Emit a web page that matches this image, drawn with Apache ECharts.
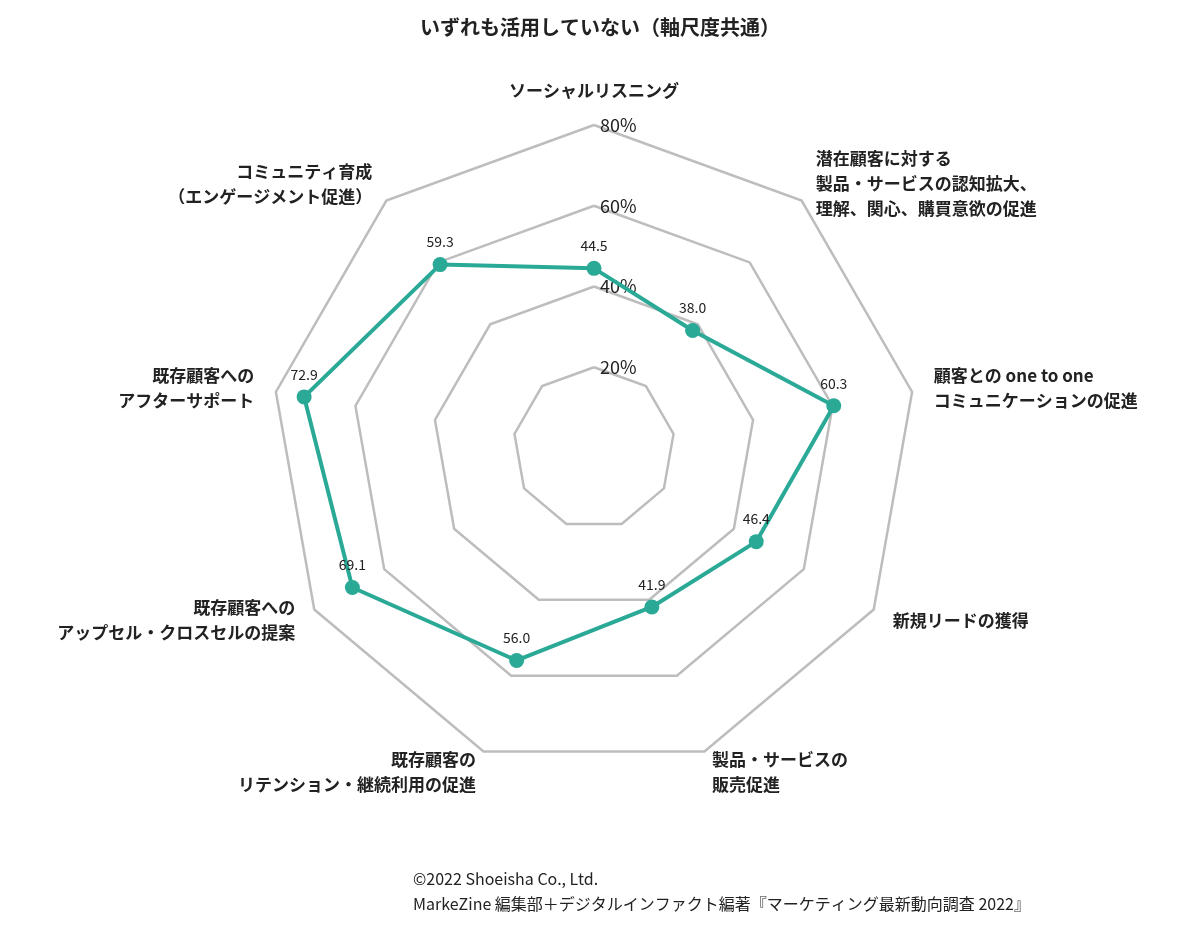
<!DOCTYPE html>
<html><head><meta charset="utf-8">
<script src="https://cdn.jsdelivr.net/npm/echarts@6/dist/echarts.min.js"></script>
<style>html,body{margin:0;background:#fff}#c{width:1200px;height:930px}</style>
</head><body><div id="c"></div>
<script>
// listed clockwise from the top
var indicatorNames = [
    'ソーシャルリスニング',
    '潜在顧客に対する\n製品・サービスの認知拡大、\n理解、関心、購買意欲の促進',
    '顧客との one to one\nコミュニケーションの促進',
    '新規リードの獲得',
    '製品・サービスの\n販売促進',
    '既存顧客の\nリテンション・継続利用の促進',
    '既存顧客への\nアップセル・クロスセルの提案',
    '既存顧客への\nアフターサポート',
    'コミュニティ育成\n（エンゲージメント促進）'
];
var values = [44.5, 38.0, 60.3, 46.4, 41.9, 56.0, 69.1, 72.9, 59.3];
var tickMax = 80;
var tickStep = 20;

// radar runs counter-clockwise, so keep the first item and reverse the rest
function ccw(arr) { return [arr[0]].concat(arr.slice(1).reverse()); }

var font = '"Noto Sans CJK JP", "Noto Sans", sans-serif';
var chart = echarts.init(document.getElementById('c'));

var option = {
    textStyle: {fontFamily: font},
    title: {
        text: 'いずれも活用していない（軸尺度共通）',
        left: 'center', top: 12,
        textStyle: {fontSize: 20, fontWeight: 'bold', color: '#222', fontFamily: font}
    },
    graphic: [{
        type: 'text', left: 413, top: 866,
        style: {
            text: '©2022 Shoeisha Co., Ltd.\nMarkeZine 編集部＋デジタルインファクト編著『マーケティング最新動向調査 2022』',
            font: '16px ' + font, fill: '#222', lineHeight: 25
        }
    }],
    radar: {
        center: [594, 448],
        radius: 323,
        startAngle: 90,
        shape: 'polygon',
        splitNumber: 4,
        indicator: ccw(indicatorNames).map(function (n) { return {name: n, min: 0, max: tickMax}; }),
        axisName: {color: '#222', fontSize: 17, fontWeight: 'bold', lineHeight: 25, fontFamily: font},
        nameGap: 22,
        axisLine: {show: false},
        splitLine: {lineStyle: {color: '#bdbdbd', width: 2.5}},
        splitArea: {show: false}
    },
    polar: {center: [594, 448], radius: 323},
    angleAxis: {show: false, startAngle: 90, min: 0, max: 360},
    radiusAxis: {
        min: 0, max: tickMax, interval: tickStep,
        axisLine: {show: false}, axisTick: {show: false}, splitLine: {show: false},
        axisLabel: {
            color: '#222', fontSize: 18, margin: -6, align: 'left',
            formatter: function (v) { return v === 0 ? '' : v + '%'; }
        }
    },
    series: [{
        type: 'radar',
        symbol: 'circle',
        symbolSize: 15,
        lineStyle: {color: '#2aa996', width: 4},
        itemStyle: {color: '#2aa996'},
        label: {
            show: true, fontSize: 14, color: '#222', distance: 8,
            formatter: function (p) { return p.value.toFixed(1); }
        },
        data: [{value: ccw(values)}]
    }]
};
chart.setOption(option);
</script>
</body></html>
